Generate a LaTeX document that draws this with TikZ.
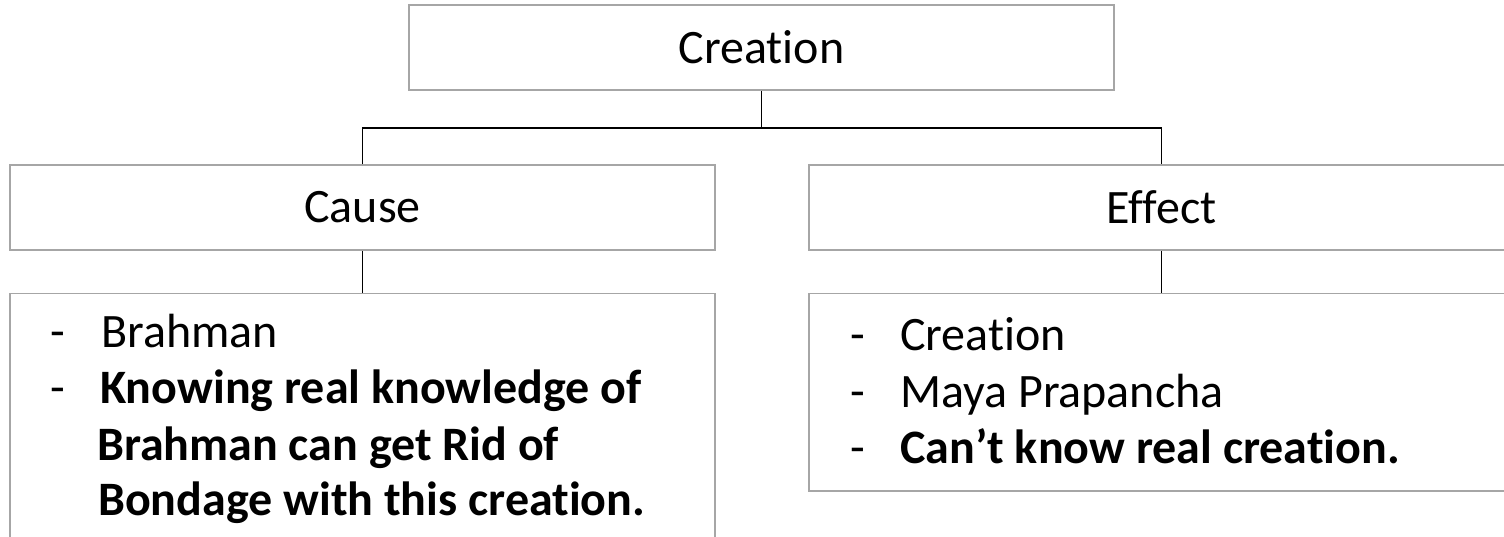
\documentclass[tikz,border=0pt]{standalone}
\usepackage{fontspec}
\setmainfont{Carlito}[RawFeature={-liga;-clig;-dlig;-calt}]
\begin{document}
\begin{tikzpicture}[x=1pt,y=-1pt,
  box/.style={draw=boxgray,line width=1.5pt,rectangle,inner sep=0pt,minimum width=705pt},
  headbox/.style={box,minimum height=85pt,font=\fontsize{48pt}{56pt}\selectfont},
  conn/.style={draw=black,line width=1.6pt},
  itemtxt/.style={anchor=base west,inner sep=0pt,font=\fontsize{48pt}{56pt}\selectfont},
  itembold/.style={itemtxt,font=\fontsize{48pt}{56pt}\selectfont\bfseries}]
\definecolor{boxgray}{HTML}{A6A6A6}
\useasboundingbox (0,0) rectangle (1504,536);
\clip (0,0) rectangle (1504,536);
\fill[white] (0,0) rectangle (1504,536);
% boxes
\node[headbox] (creation) at (761.5,47.5) {Creation};
\node[headbox] (cause) at (362.5,207.5) {Cause};
\node[headbox] (effect) at (1161.5,207.5) {Effect};
\node[box,minimum height=290pt,anchor=north] (causebody) at (362.5,292.5) {};
\node[box,minimum height=197.5pt,anchor=north] (effectbody) at (1161.5,292.5) {};
% connectors
\coordinate (bus) at (761.5,128);
\draw[conn] (creation.south) -- (bus);
\draw[conn] (cause.north) |- (bus) -| (effect.north);
\draw[conn] (cause.south) -- (causebody.north);
\draw[conn] (effect.south) -- (effectbody.north);
% cause text
\node[itemtxt] (cd1) at (50,347) {-};
\node[itemtxt] (ct1) at (101,347) {Brahman};
\node[itemtxt] (cd2) at (50,403) {-};
\node[itembold] (ct2) at (100,403) {Knowing real knowledge of};
\node[itembold] (ct3) at (97,460) {Brahman can get Rid of};
\node[itembold] (ct4) at (98,515) {Bondage with this creation.};
% effect text
\node[itemtxt] (ed1) at (850,350) {-};
\node[itemtxt] (et1) at (900,350) {Creation};
\node[itemtxt] (ed2) at (850,407) {-};
\node[itemtxt] (et2) at (900,407) {Maya Prapancha};
\node[itemtxt] (ed3) at (850,463) {-};
\node[itembold] (et3) at (900,463) {Can’t know real creation.};
\end{tikzpicture}
\end{document}
